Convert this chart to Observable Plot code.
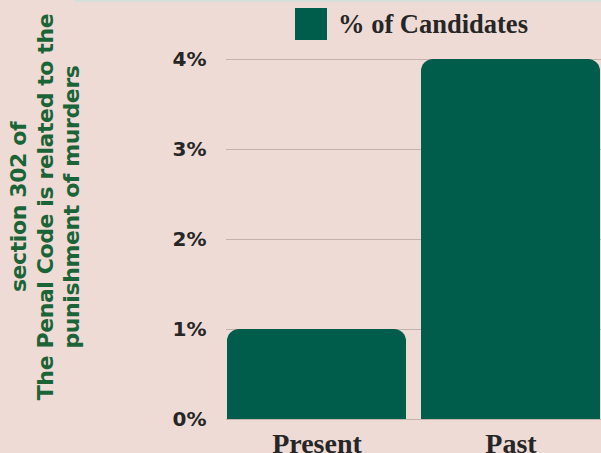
<!DOCTYPE html>
<html>
<head>
<meta charset="utf-8">
<script src="https://cdn.jsdelivr.net/npm/d3@7"></script>
<script src="https://cdn.jsdelivr.net/npm/@observablehq/plot@0.6"></script>
<style>
  html, body { margin: 0; padding: 0; background: #efdbd5; }
  #wrap { position: relative; width: 601px; height: 453px; overflow: hidden; }
  #strip { position: absolute; left: 74px; top: 0; width: 527px; height: 2px; background: #d5e0da; }
  #legend { position: absolute; left: 295px; top: 8px; display: flex; align-items: center; gap: 11px;
            font-family: "Liberation Serif", serif; font-weight: bold; font-size: 26.5px; color: #262626; }
  #legend .sw { width: 32px; height: 32px; background: #005c4b; }
  #ytitle { position: absolute; left: 46px; top: 207px; transform: translate(-50%, -50%) rotate(-90deg);
            white-space: pre; text-align: center; font-family: "DejaVu Sans", sans-serif; font-weight: bold;
            font-size: 22px; letter-spacing: -0.4px; line-height: 26.5px; color: #1b6437; }
  svg { display: block; }
</style>
</head>
<body>
<div id="wrap">
  <div id="chart"></div>
  <div id="strip"></div>
  <div id="legend"><span class="sw"></span><span id="legtext"></span></div>
  <div id="ytitle"></div>
</div>
<script>
const categories = ["Present", "Past"];
const values = [1, 4];
const yTicks = [0, 1, 2, 3, 4];
const seriesName = "% of Candidates";
const yTitle = "section 302 of\nThe Penal Code is related to the\npunishment of murders";

const data = categories.map((c, i) => ({category: c, value: values[i]}));
document.getElementById("legtext").textContent = seriesName;
document.getElementById("ytitle").textContent = yTitle;

const chart = Plot.plot({
  width: 601,
  height: 453,
  marginLeft: 226,
  marginRight: 0,
  marginTop: 59,
  marginBottom: 34,
  style: {background: "transparent", overflow: "visible"},
  x: {domain: categories, paddingInner: 0.075, paddingOuter: 0, label: null},
  y: {domain: [0, 4], label: null},
  marks: [
    Plot.gridY(yTicks, {stroke: "#c2b2ac", strokeOpacity: 1, strokeWidth: 1}),
    Plot.barY(data, {x: "category", y: "value", fill: "#005c4b", ry1: 12}),
    Plot.axisY(yTicks, {tickSize: 0, tickPadding: 20, tickFormat: d => d + "%",
      fontFamily: "DejaVu Sans", fontWeight: "bold", fontSize: 20, fill: "#262626", label: null}),
    Plot.axisX({tickSize: 0, tickPadding: 14, fontFamily: "Liberation Serif", fontWeight: "bold",
      fontSize: 28, fill: "#262626", label: null})
  ]
});
document.getElementById("chart").appendChild(chart);
</script>
</body>
</html>
